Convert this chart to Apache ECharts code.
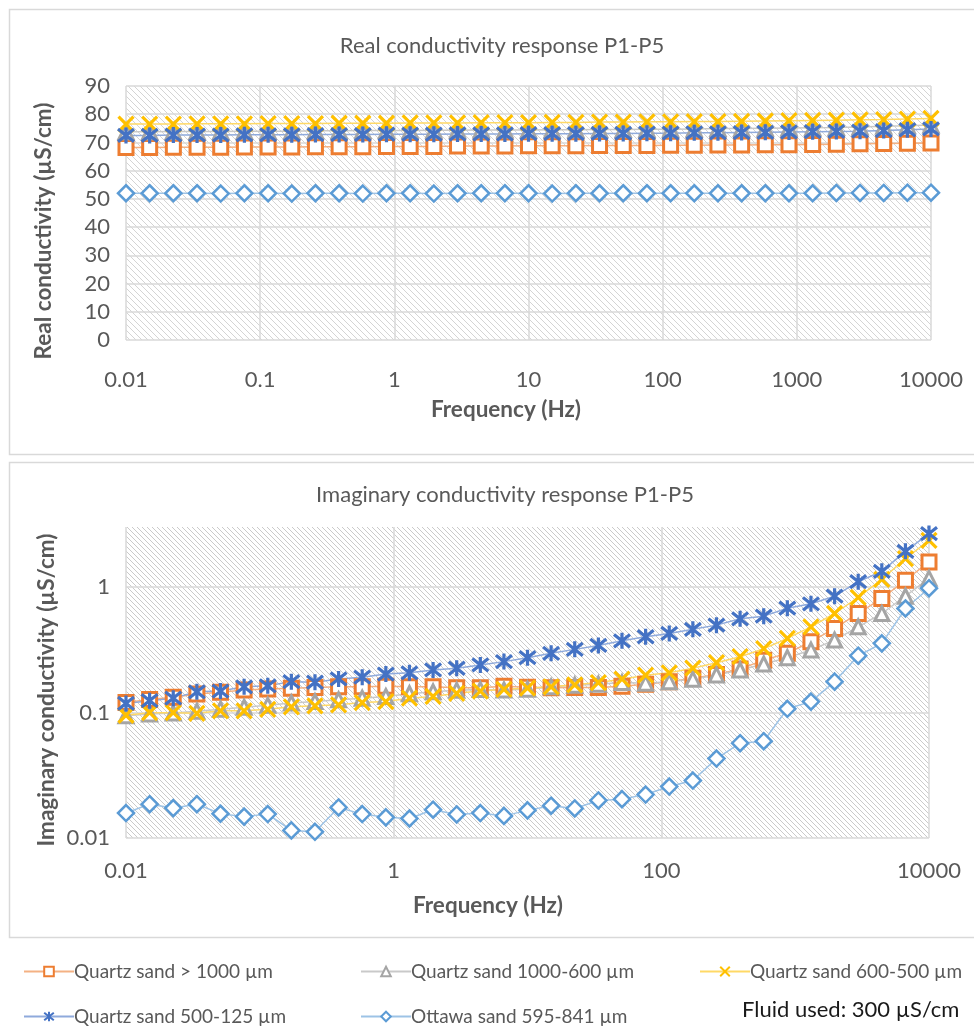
<!DOCTYPE html>
<html>
<head>
<meta charset="utf-8">
<script src="https://cdn.jsdelivr.net/npm/echarts@6/dist/echarts.min.js"></script>
<style>
  html, body { margin: 0; padding: 0; background: #fff; }
  #chart { width: 974px; height: 1028px; }
</style>
</head>
<body>
<div id="chart"></div>
<script>
// Measurement frequencies (Hz), 35 steps from 0.01 Hz to 10 kHz
const frequencies = [
  0.01, 0.01501, 0.02254, 0.03385, 0.05082, 0.0763, 0.1146, 0.172, 0.2582, 0.3877,
  0.5821, 0.874, 1.312, 1.97, 2.958, 4.441, 6.668, 10, 15.01, 22.54,
  33.85, 50.82, 76.3, 114.6, 172, 258.2, 387.7, 582.1, 874, 1312,
  1970, 2958, 4441, 6668, 10000
];

const sampleNames = [
  'Quartz sand > 1000 µm',
  'Quartz sand 1000-600 µm',
  'Quartz sand 600-500 µm',
  'Quartz sand 500-125 µm',
  'Ottawa sand 595-841 µm'
];

// Real conductivity (µS/cm)
const realCoarse = [
  68.2, 68.2, 68.3, 68.3, 68.3, 68.4, 68.4, 68.4, 68.5, 68.5,
  68.5, 68.6, 68.6, 68.6, 68.7, 68.7, 68.7, 68.8, 68.8, 68.8,
  68.9, 68.9, 68.9, 69.0, 69.0, 69.1, 69.1, 69.2, 69.2, 69.3,
  69.4, 69.5, 69.6, 69.7, 69.8
];
const realMedium = [
  73.8, 73.8, 73.9, 73.9, 73.9, 74.0, 74.0, 74.0, 74.1, 74.1,
  74.2, 74.2, 74.2, 74.3, 74.3, 74.4, 74.4, 74.4, 74.5, 74.5,
  74.6, 74.6, 74.7, 74.7, 74.8, 74.9, 74.9, 75.0, 75.1, 75.2,
  75.3, 75.5, 75.7, 75.9, 76.2
];
const realFine = [
  76.5, 76.5, 76.5, 76.6, 76.6, 76.6, 76.7, 76.7, 76.7, 76.8,
  76.8, 76.8, 76.9, 76.9, 76.9, 77.0, 77.0, 77.0, 77.1, 77.1,
  77.2, 77.2, 77.3, 77.3, 77.4, 77.4, 77.5, 77.6, 77.7, 77.8,
  77.9, 78.0, 78.1, 78.3, 78.5
];
const realVeryFine = [
  72.5, 72.5, 72.6, 72.6, 72.6, 72.7, 72.7, 72.7, 72.8, 72.8,
  72.8, 72.9, 72.9, 72.9, 73.0, 73.0, 73.0, 73.1, 73.1, 73.1,
  73.2, 73.2, 73.3, 73.3, 73.4, 73.4, 73.5, 73.6, 73.7, 73.8,
  73.9, 74.0, 74.2, 74.5, 74.8
];
const realOttawa = [
  52.0, 52.0, 52.0, 52.0, 51.9, 52.0, 52.0, 51.9, 52.0, 52.0,
  51.9, 52.0, 52.0, 51.9, 52.0, 52.0, 52.0, 52.0, 51.9, 52.0,
  52.0, 52.0, 52.0, 52.0, 52.0, 52.0, 52.0, 52.0, 52.0, 52.0,
  52.1, 52.1, 52.1, 52.2, 52.2
];

// Imaginary conductivity (µS/cm)
const imagCoarse = [
  0.120, 0.127, 0.132, 0.140, 0.145, 0.151, 0.154, 0.156, 0.158, 0.160,
  0.160, 0.162, 0.160, 0.160, 0.157, 0.157, 0.162, 0.159, 0.157, 0.158,
  0.158, 0.162, 0.168, 0.176, 0.187, 0.201, 0.222, 0.261, 0.296, 0.366,
  0.467, 0.615, 0.809, 1.13, 1.58
];
const imagMedium = [
  0.094, 0.097, 0.099, 0.102, 0.106, 0.110, 0.114, 0.119, 0.122, 0.126,
  0.130, 0.134, 0.141, 0.146, 0.150, 0.152, 0.151, 0.153, 0.160, 0.165,
  0.168, 0.173, 0.171, 0.176, 0.184, 0.199, 0.218, 0.243, 0.273, 0.314,
  0.377, 0.481, 0.614, 0.843, 1.17
];
const imagFine = [
  0.095, 0.0996, 0.0996, 0.0985, 0.103, 0.103, 0.106, 0.111, 0.113, 0.115,
  0.120, 0.122, 0.130, 0.134, 0.142, 0.148, 0.153, 0.156, 0.160, 0.166,
  0.173, 0.184, 0.198, 0.207, 0.225, 0.249, 0.278, 0.322, 0.389, 0.481,
  0.614, 0.824, 1.15, 1.68, 2.35
];
const imagVeryFine = [
  0.118, 0.124, 0.130, 0.146, 0.148, 0.160, 0.163, 0.176, 0.174, 0.185,
  0.191, 0.202, 0.207, 0.218, 0.225, 0.239, 0.254, 0.273, 0.296, 0.318,
  0.342, 0.372, 0.401, 0.426, 0.459, 0.496, 0.557, 0.585, 0.677, 0.733,
  0.843, 1.10, 1.33, 1.92, 2.66
];
const imagOttawa = [
  0.0158, 0.0186, 0.0173, 0.0186, 0.0156, 0.0148, 0.0155, 0.0115, 0.0112, 0.0175,
  0.0155, 0.0146, 0.0143, 0.0168, 0.0154, 0.0158, 0.0150, 0.0166, 0.0181, 0.0172,
  0.0199, 0.0204, 0.0222, 0.0257, 0.0287, 0.0429, 0.0569, 0.0590, 0.107, 0.122,
  0.176, 0.283, 0.355, 0.673, 0.976
];

// Tick labels
const freqTickLabels = ['0.01', '0.1', '1', '10', '100', '1000', '10000'];
const imagTickLabels = ['0.01', '0.1', '1'];

const FONT = 'Lato, "Open Sans", sans-serif';
const TEXT_GREY = '#595959';
const GRID_GREY = '#d9d9d9';

// Diagonal hatch fill for the plot areas
function hatchPattern(step, color) {
  const c = document.createElement('canvas');
  c.width = step; c.height = step;
  const g = c.getContext('2d');
  g.fillStyle = '#ffffff';
  g.fillRect(0, 0, step, step);
  g.strokeStyle = color;
  g.lineWidth = 1;
  g.beginPath();
  for (const o of [-step, 0, step]) {
    g.moveTo(o, 0);
    g.lineTo(o + step, step);
  }
  g.stroke();
  return { image: c, repeat: 'repeat' };
}

const STAR_PATH = 'path://M1,1L9,9M9,1L1,9M5,0L5,10';
const CROSS_PATH = 'path://M0,0L10,10M10,0L0,10';

const styles = [
  { symbol: 'rect', size: 14, mark: '#ED7D31', fill: '#ffffff', line: '#F4B183', bw: 3 },
  { symbol: 'triangle', size: 14, mark: '#A5A5A5', fill: '#ffffff', line: '#C9C9C9', bw: 3 },
  { symbol: CROSS_PATH, size: 15, mark: '#FFC000', fill: '#FFC000', line: '#FFD966', bw: 3.2 },
  { symbol: STAR_PATH, size: 16, mark: '#4472C4', fill: '#4472C4', line: '#8FAADC', bw: 3.2 },
  { symbol: 'diamond', size: 16, mark: '#5B9BD5', fill: '#ffffff', line: '#9DC3E6', bw: 2.5 }
];

const realSets = [realCoarse, realMedium, realFine, realVeryFine, realOttawa];
const imagSets = [imagCoarse, imagMedium, imagFine, imagVeryFine, imagOttawa];

function makeSeries(values, i, axisIdx) {
  const s = styles[i];
  return {
    name: sampleNames[i],
    type: 'line',
    xAxisIndex: axisIdx,
    yAxisIndex: axisIdx,
    data: frequencies.map((f, k) => [f, values[k]]),
    symbol: s.symbol,
    symbolSize: s.size,
    showAllSymbol: true,
    lineStyle: { color: s.line, width: 1.5 },
    itemStyle: { color: s.fill, borderColor: s.mark, borderWidth: s.bw },
    emphasis: { disabled: true },
    animation: false
  };
}

const series = [];
realSets.forEach((v, i) => series.push(makeSeries(v, i, 0)));
imagSets.forEach((v, i) => series.push(makeSeries(v, i, 1)));

const axisLabelStyle = { color: TEXT_GREY, fontFamily: FONT, fontSize: 22 };
const gridLine = { show: true, lineStyle: { color: GRID_GREY, width: 1.5 } };
const TITLE_FONT = 'bold 22.5px ' + FONT;

function freqLabel(v) {
  const k = Math.round(Math.log10(v)) + 2;
  return freqTickLabels[k] !== undefined ? freqTickLabels[k] : '';
}
function imagLabel(v) {
  const k = Math.round(Math.log10(v)) + 2;
  return imagTickLabels[k] !== undefined ? imagTickLabels[k] : '';
}

// Axis titles placed as free text
function axisTitle(text, x, y, vertical) {
  return {
    type: 'text', x: x, y: y, rotation: vertical ? Math.PI / 2 : 0, silent: true,
    style: { text: text, fill: TEXT_GREY, font: TITLE_FONT, align: 'center', verticalAlign: 'middle' }
  };
}

const legendPos = [
  { left: 18, top: 957 },
  { left: 355, top: 957 },
  { left: 694, top: 957 },
  { left: 18, top: 1002 },
  { left: 355, top: 1002 }
];

const option = {
  backgroundColor: '#ffffff',
  animation: false,
  title: [
    { text: 'Real conductivity response P1-P5', left: 497, top: 30, textAlign: 'center',
      textStyle: { color: TEXT_GREY, fontFamily: FONT, fontSize: 22, fontWeight: 'normal' } },
    { text: 'Imaginary conductivity response P1-P5', left: 500, top: 479, textAlign: 'center',
      textStyle: { color: TEXT_GREY, fontFamily: FONT, fontSize: 22, fontWeight: 'normal' } }
  ],
  legend: legendPos.map((p, i) => ({
    data: [sampleNames[i]],
    left: p.left, top: p.top,
    itemWidth: 50, itemHeight: 12, itemGap: 0,
    selectedMode: false,
    textStyle: { color: TEXT_GREY, fontFamily: FONT, fontSize: 19, padding: [0, 0, 0, -5] }
  })),
  grid: [
    { left: 126, right: 43, top: 86, height: 254, show: true, borderWidth: 0,
      backgroundColor: hatchPattern(6, '#d4d4d4') },
    { left: 126, right: 45, top: 527, height: 311, show: true, borderWidth: 0,
      backgroundColor: hatchPattern(5, '#cacaca') }
  ],
  xAxis: [
    { type: 'log', gridIndex: 0, logBase: 10, min: 0.01, max: 10000, interval: 1,
      axisLine: { show: false }, axisTick: { show: false },
      axisLabel: Object.assign({ margin: 29, formatter: freqLabel }, axisLabelStyle),
      splitLine: gridLine, minorSplitLine: { show: false } },
    { type: 'log', gridIndex: 1, logBase: 10, min: 0.01, max: 10000, interval: 2,
      axisLine: { show: false }, axisTick: { show: false },
      axisLabel: Object.assign({ margin: 22, formatter: freqLabel }, axisLabelStyle),
      splitLine: gridLine, minorSplitLine: { show: false } }
  ],
  yAxis: [
    { type: 'value', gridIndex: 0, min: 0, max: 90, interval: 10,
      axisLine: { show: false }, axisTick: { show: false },
      axisLabel: Object.assign({ margin: 16 }, axisLabelStyle),
      splitLine: gridLine },
    { type: 'log', gridIndex: 1, logBase: 10, min: 0.01, max: 3, interval: 1,
      axisLine: { show: false }, axisTick: { show: false },
      axisLabel: Object.assign({ margin: 16, formatter: imagLabel, showMaxLabel: false }, axisLabelStyle),
      splitLine: Object.assign({ showMaxLine: false }, gridLine) }
  ],
  graphic: [
    { type: 'rect', left: 7, top: 7, silent: true, z: -1,
      shape: { width: 980, height: 445 }, style: { fill: 'none', stroke: GRID_GREY, lineWidth: 1.5 } },
    { type: 'rect', left: 7, top: 460, silent: true, z: -1,
      shape: { width: 980, height: 475 }, style: { fill: 'none', stroke: GRID_GREY, lineWidth: 1.5 } },
    axisTitle('Frequency (Hz)', 506, 410, false),
    axisTitle('Real conductivity (µS/cm)', 44, 231, true),
    axisTitle('Frequency (Hz)', 488, 906, false),
    axisTitle('Imaginary conductivity (µS/cm)', 47, 690, true),
    { type: 'text', left: 742, top: 999, silent: true,
      style: { text: 'Fluid used: 300 µS/cm', fill: '#1a1a1a', font: '22px ' + FONT } }
  ],
  series: series
};

const chart = echarts.init(document.getElementById('chart'), null, { renderer: 'canvas' });
chart.setOption(option);
</script>
</body>
</html>
